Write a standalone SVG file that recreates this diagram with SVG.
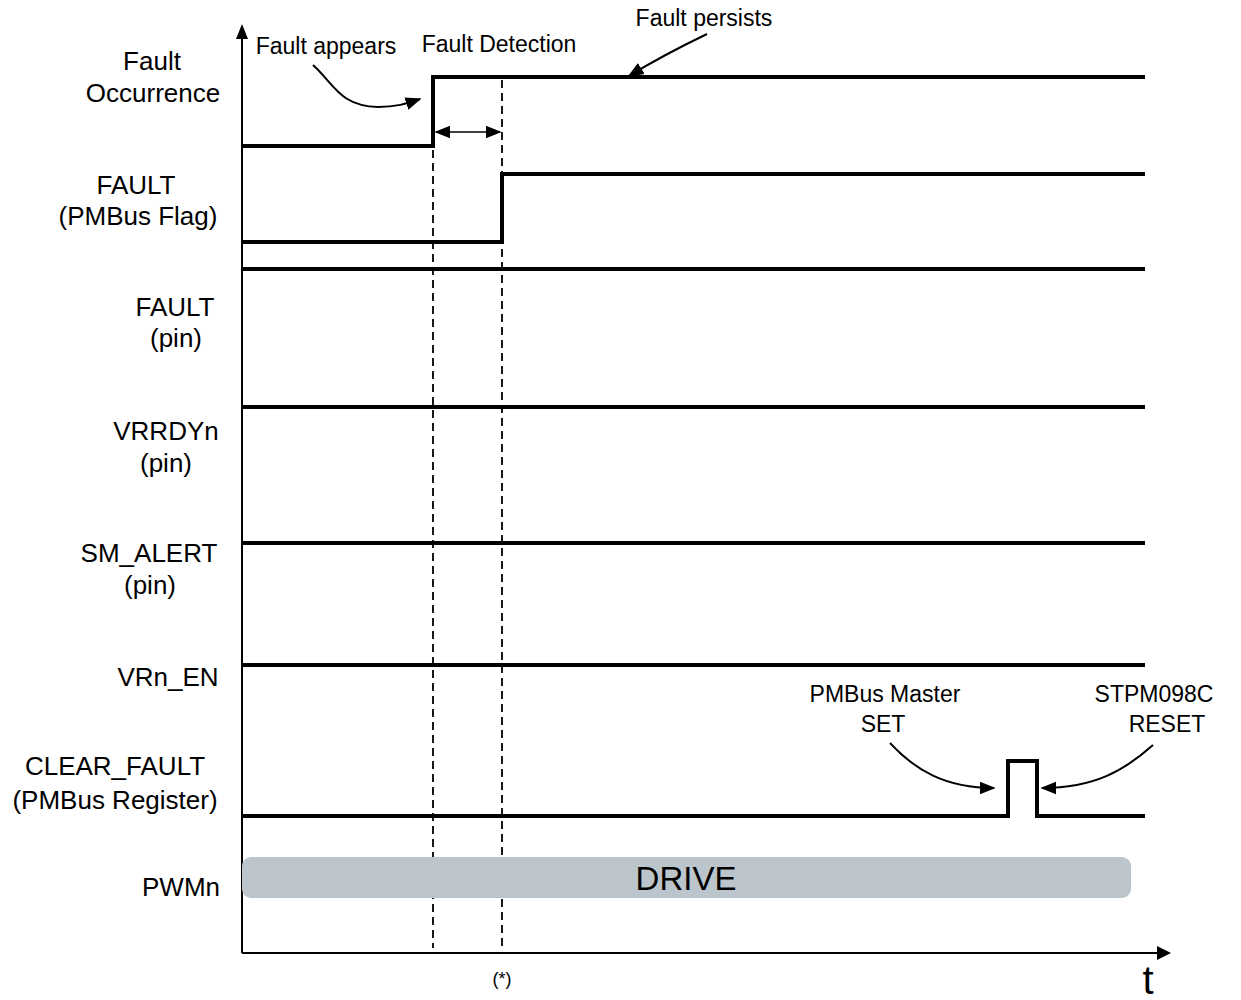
<svg xmlns="http://www.w3.org/2000/svg" width="1241" height="1000" viewBox="0 0 1241 1000">
<defs>
<style>
text{font-family:"Liberation Sans",Arial,sans-serif;fill:#000}
.lbl{font-size:26px;text-anchor:middle}
.ann{font-size:23px;text-anchor:middle}
.sig{fill:none;stroke:#000;stroke-width:4;stroke-linejoin:miter}
.dash{fill:none;stroke:#000;stroke-width:1.8;stroke-dasharray:8 5}
.axis{fill:none;stroke:#000;stroke-width:2}
.call{fill:none;stroke:#000;stroke-width:2}
</style>
<marker id="ah2" viewBox="0 0 10 10" refX="9" refY="5" markerWidth="16" markerHeight="16" markerUnits="userSpaceOnUse" orient="auto-start-reverse">
<path d="M0,1 L10,5 L0,9 z" fill="#000"/>
</marker>
</defs>

<g id="axes">
<line class="axis" x1="242" y1="953" x2="242" y2="36"/>
<path d="M242,24 L236,39 L248,39 z" fill="#000"/>
<line class="axis" x1="242" y1="953" x2="1158" y2="953"/>
<path d="M1171,953 L1157,946 L1157,960 z" fill="#000"/>
<text x="1148" y="994" style="font-size:40px;text-anchor:middle">t</text>
<text x="502" y="985" style="font-size:18px;text-anchor:middle">(*)</text>
</g>

<g id="dashed-markers">
<line class="dash" x1="433" y1="150" x2="433" y2="948"/>
<line class="dash" x1="502" y1="80" x2="502" y2="948"/>
</g>

<g id="fault-occurrence">
<text class="lbl" x="152" y="70">Fault</text>
<text class="lbl" x="153" y="102">Occurrence</text>
<path class="sig" d="M242,146 H433 V77 H1145"/>
</g>

<g id="fault-flag">
<text class="lbl" x="136" y="194">FAULT</text>
<text class="lbl" x="138" y="225">(PMBus Flag)</text>
<path class="sig" d="M242,242 H502 V174 H1145"/>
</g>

<g id="fault-pin">
<text class="lbl" x="175" y="316">FAULT</text>
<text class="lbl" x="176" y="347">(pin)</text>
<line class="sig" x1="242" y1="269" x2="1145" y2="269"/>
</g>

<g id="vrrdyn">
<text class="lbl" x="166" y="440">VRRDYn</text>
<text class="lbl" x="166" y="472">(pin)</text>
<line class="sig" x1="242" y1="407" x2="1145" y2="407"/>
</g>

<g id="sm-alert">
<text class="lbl" x="149" y="562">SM_ALERT</text>
<text class="lbl" x="150" y="594">(pin)</text>
<line class="sig" x1="242" y1="543" x2="1145" y2="543"/>
</g>

<g id="vrn-en">
<text class="lbl" x="168" y="686">VRn_EN</text>
<line class="sig" x1="242" y1="665" x2="1145" y2="665"/>
</g>

<g id="clear-fault">
<text class="lbl" x="115" y="775">CLEAR_FAULT</text>
<text class="lbl" x="115" y="809">(PMBus Register)</text>
<path class="sig" d="M242,816 H1008 V761 H1037 V816 H1145"/>
</g>

<g id="pwmn">
<text class="lbl" x="181" y="896">PWMn</text>
<rect x="242" y="857" width="889" height="41" rx="9" fill="#BBC5CB"/>
<text x="686" y="890" style="font-size:33px;text-anchor:middle">DRIVE</text>
</g>

<g id="annotations">
<text class="ann" x="326" y="54">Fault appears</text>
<text class="ann" x="499" y="52">Fault Detection</text>
<text class="ann" x="704" y="26">Fault persists</text>
<text class="ann" x="885" y="702">PMBus Master</text>
<text class="ann" x="883" y="732">SET</text>
<text class="ann" x="1154" y="702">STPM098C</text>
<text class="ann" x="1167" y="732">RESET</text>
</g>

<g id="connectors">
<path class="call" d="M313,65 C335,85 340,106 378,107 C398,107 408,103 420,99" marker-end="url(#ah2)"/>
<path class="call" d="M707,34 C680,47 655,60 629,76" marker-end="url(#ah2)"/>
<line x1="436" y1="132" x2="500" y2="132" class="call" style="stroke-width:1.6" marker-start="url(#ah2)" marker-end="url(#ah2)"/>
<path class="call" d="M890,743 C915,770 945,788 994,788" marker-end="url(#ah2)"/>
<path class="call" d="M1153,745 C1125,770 1095,788 1042,788" marker-end="url(#ah2)"/>
</g>
</svg>
